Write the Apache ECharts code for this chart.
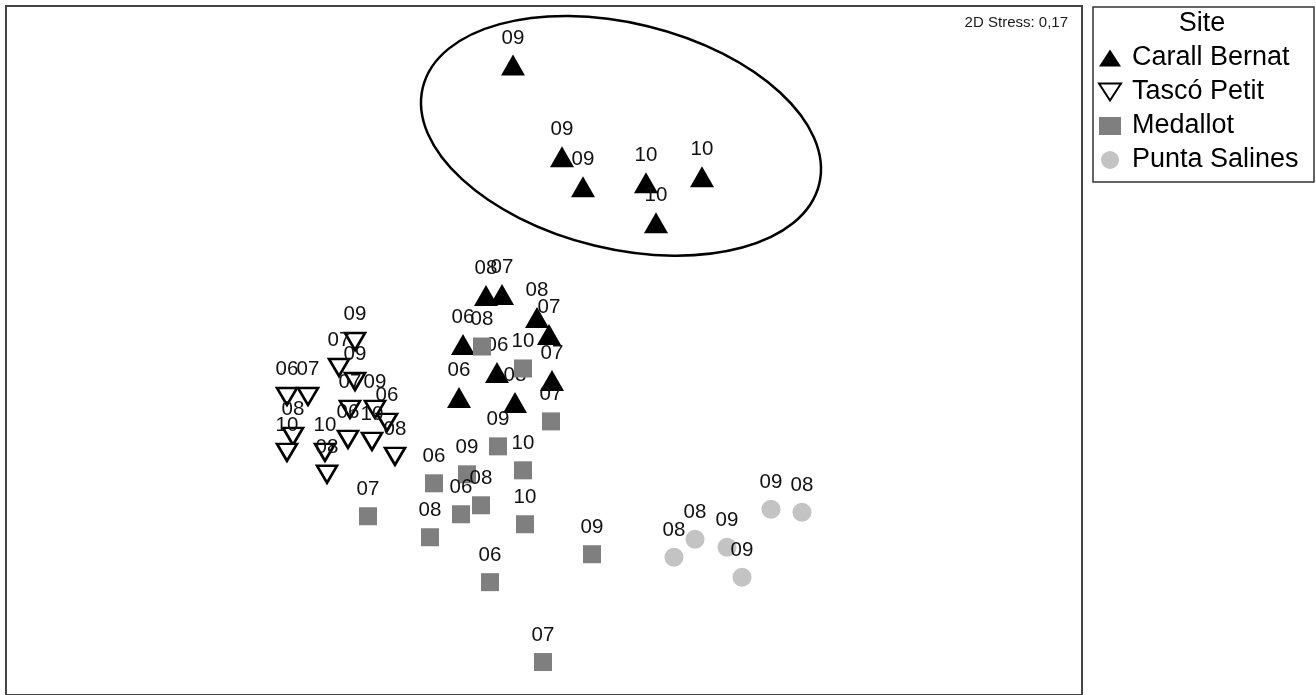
<!DOCTYPE html>
<html>
<head>
<meta charset="utf-8">
<title>NMDS – Site</title>
<script src="https://cdn.jsdelivr.net/npm/echarts@6/dist/echarts.min.js"></script>
<style>
  html, body { margin: 0; padding: 0; background: #fff; }
  #chart { width: 1316px; height: 695px; }
</style>
</head>
<body>
<div id="chart"></div>
<script>
// NMDS ordination coordinates (axis 1, axis 2) and sampling year per sample
const carallX  = [-0.31, 0.18, 0.39, 1.02, 1.58, 1.12, -0.58, -0.42, -0.07, 0.05, -0.81, -0.47, 0.08, -0.85, -0.29];
const carallY  = [2.85, 1.93, 1.63, 1.67, 1.73, 1.27, 0.54, 0.55, 0.32, 0.15, 0.05, -0.23, -0.31, -0.48, -0.53];
const carallYr = ['09', '09', '09', '10', '10', '10', '08', '07', '08', '07', '06', '06', '07', '06', '08'];

const tascoX  = [-1.89, -2.05, -1.89, -2.57, -2.36, -1.94, -1.69, -1.57, -2.51, -2.57, -2.19, -2.17, -1.96, -1.72, -1.49];
const tascoY  = [0.08, -0.18, -0.32, -0.47, -0.47, -0.60, -0.60, -0.73, -0.87, -1.03, -1.03, -1.25, -0.90, -0.92, -1.07];
const tascoYr = ['09', '07', '09', '06', '07', '07', '09', '06', '08', '10', '10', '08', '06', '10', '08'];

const medX  = [-0.62, -0.21, 0.07, -0.46, -0.21, -1.10, -0.77, -0.63, -0.83, -1.14, -0.19, 0.48, -0.54, -0.01, -1.76];
const medY  = [0.03, -0.19, -0.72, -0.97, -1.21, -1.34, -1.25, -1.56, -1.65, -1.88, -1.75, -2.05, -2.33, -3.13, -1.67];
const medYr = ['08', '10', '07', '09', '10', '06', '09', '08', '06', '08', '10', '09', '06', '07', '07'];

const puntaX  = [1.30, 1.51, 1.83, 1.98, 2.27, 2.58];
const puntaY  = [-2.08, -1.90, -1.98, -2.28, -1.60, -1.63];
const puntaYr = ['08', '08', '09', '09', '09', '08'];

const siteNames = ['Carall Bernat', 'Tascó Petit', 'Medallot', 'Punta Salines'];
const legendTitle = 'Site';
const stressText = '2D Stress: 0,17';

// grouping ellipse around the 2009–2010 Carall Bernat samples: centre, radii, tilt (degrees)
const ellipseCenter = [0.77, 2.14];
const ellipseRadii = [2.04, 1.13];
const ellipseTilt = -13.7;

const FONT = '"Liberation Sans", Arial, sans-serif';

// legend glyphs: up / down pointing triangles
const UP_TRI = 'path://M11,0L22,17L0,17Z';
const DOWN_TRI = 'path://M0,0L22,0L11,17Z';

function points(xs, ys, yrs) {
  return xs.map((x, i) => ({ value: [x, ys[i]], name: yrs[i] }));
}

const yearLabel = {
  show: true,
  position: 'inside',
  offset: [0, -27],
  formatter: '{b}',
  color: '#111',
  fontFamily: FONT,
  fontSize: 20.5
};

const chart = echarts.init(document.getElementById('chart'), null, { renderer: 'canvas' });

chart.setOption({
  backgroundColor: '#fff',
  animation: false,
  grid: {
    left: 6, top: 6, width: 1076, height: 690,
    show: true, borderColor: '#444', borderWidth: 2, backgroundColor: 'transparent'
  },
  xAxis: { type: 'value', min: -5.38, max: 5.38, show: false },
  yAxis: { type: 'value', min: -3.46, max: 3.44, show: false },
  legend: {
    orient: 'vertical',
    left: 1093, top: 39,
    data: [
      { name: siteNames[0], icon: UP_TRI },
      { name: siteNames[1], icon: DOWN_TRI },
      { name: siteNames[2], icon: 'rect' },
      { name: siteNames[3], icon: 'circle' }
    ],
    itemWidth: 22, itemHeight: 18, itemGap: 6,
    symbolKeepAspect: true,
    textStyle: { fontFamily: FONT, fontSize: 27, lineHeight: 28, color: '#000', padding: [0, 0, 0, 6] }
  },
  graphic: [
    {
      type: 'rect',
      shape: { x: 1093, y: 7, width: 221, height: 175 },
      style: { fill: 'none', stroke: '#333', lineWidth: 1.5 }
    },
    {
      type: 'text',
      x: 1202, y: 24,
      style: { text: legendTitle, font: '27px ' + FONT, fill: '#000', textAlign: 'center', textVerticalAlign: 'middle' }
    },
    {
      type: 'text',
      x: 1068, y: 23,
      style: { text: stressText, font: '15px ' + FONT, fill: '#1a1a1a', textAlign: 'right', textVerticalAlign: 'middle' }
    }
  ],
  series: [
    {
      type: 'custom',
      silent: true,
      z: 1,
      data: [[ellipseCenter[0], ellipseCenter[1], ellipseRadii[0], ellipseRadii[1], ellipseTilt]],
      renderItem: function (params, api) {
        const c = api.coord([api.value(0), api.value(1)]);
        const rx = api.size([api.value(2), 0])[0];
        const ry = api.size([0, api.value(3)])[1];
        return {
          type: 'ellipse',
          x: c[0], y: c[1],
          rotation: api.value(4) * Math.PI / 180,
          shape: { cx: 0, cy: 0, rx: rx, ry: ry },
          style: { fill: 'none', stroke: '#000', lineWidth: 2.5 }
        };
      }
    },
    {
      name: siteNames[1],
      type: 'scatter',
      z: 2,
      symbol: 'triangle',
      symbolRotate: 180,
      symbolSize: [20, 17],
      itemStyle: { color: '#fff', borderColor: '#000', borderWidth: 2.6, opacity: 1 },
      label: yearLabel,
      data: points(tascoX, tascoY, tascoYr)
    },
    {
      name: siteNames[0],
      type: 'scatter',
      z: 3,
      symbol: 'triangle',
      symbolSize: [24, 21],
      itemStyle: { color: '#000', opacity: 1 },
      label: yearLabel,
      data: points(carallX, carallY, carallYr)
    },
    {
      name: siteNames[2],
      type: 'scatter',
      z: 4,
      symbol: 'rect',
      symbolSize: 18,
      itemStyle: { color: '#7f7f7f', opacity: 1 },
      label: yearLabel,
      data: points(medX, medY, medYr)
    },
    {
      name: siteNames[3],
      type: 'scatter',
      z: 5,
      symbol: 'circle',
      symbolSize: 19,
      itemStyle: { color: '#c3c3c3', opacity: 1 },
      label: yearLabel,
      data: points(puntaX, puntaY, puntaYr)
    }
  ]
});
</script>
</body>
</html>
